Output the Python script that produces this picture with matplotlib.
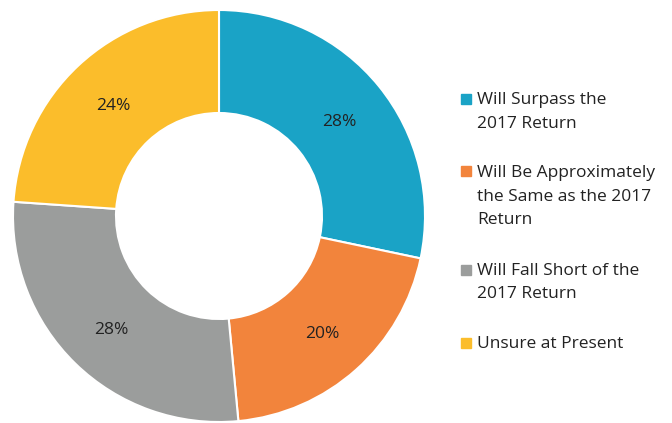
import matplotlib.pyplot as plt
from matplotlib.patches import Rectangle

plt.rcParams['font.family'] = ['Open Sans', 'DejaVu Sans']

labels = ['Will Surpass the\n2017 Return',
          'Will Be Approximately\nthe Same as the 2017\nReturn',
          'Will Fall Short of the\n2017 Return',
          'Unsure at Present']
values = [28.3, 20.2, 27.6, 23.9]
colors = ['#1aa3c6', '#f2843c', '#9b9d9c', '#fbbd2b']

W, H = 672, 423
fig = plt.figure(figsize=(W / 100, H / 100), dpi=100)

# donut centre and radius in pixels
cx, cy, r = 219, 216, 206
ax = fig.add_axes([(cx - r) / W, (H - cy - r) / H, 2 * r / W, 2 * r / H])
wedges, texts, pcts = ax.pie(values, colors=colors, startangle=90, counterclock=False,
                             radius=1, autopct='%.0f%%', pctdistance=0.75,
                             wedgeprops=dict(width=0.5, edgecolor='white', linewidth=1.5),
                             textprops=dict(fontsize=12.5, color='#222222'))
for t in pcts:
    x, y = t.get_position()
    t.set_position((x, y - 0.015))
ax.set_xlim(-1, 1)
ax.set_ylim(-1, 1)
ax.set_aspect('equal')
ax.axis('off')

# legend, drawn by hand so the marker sits on the first line
baselines = [104.5, 177, 275, 348]
pitch = 23.5
for lab, col, yb in zip(labels, colors, baselines):
    for i, line in enumerate(lab.split('\n')):
        fig.text(477 / W, 1 - (yb + i * pitch) / H, line, fontsize=12.5,
                 color='#222222', va='baseline', ha='left')
    fig.patches.append(Rectangle((461 / W, 1 - (yb - 0.5) / H), 10 / W, 10 / H,
                                 transform=fig.transFigure, color=col))

fig.savefig('out.png', dpi=100)
